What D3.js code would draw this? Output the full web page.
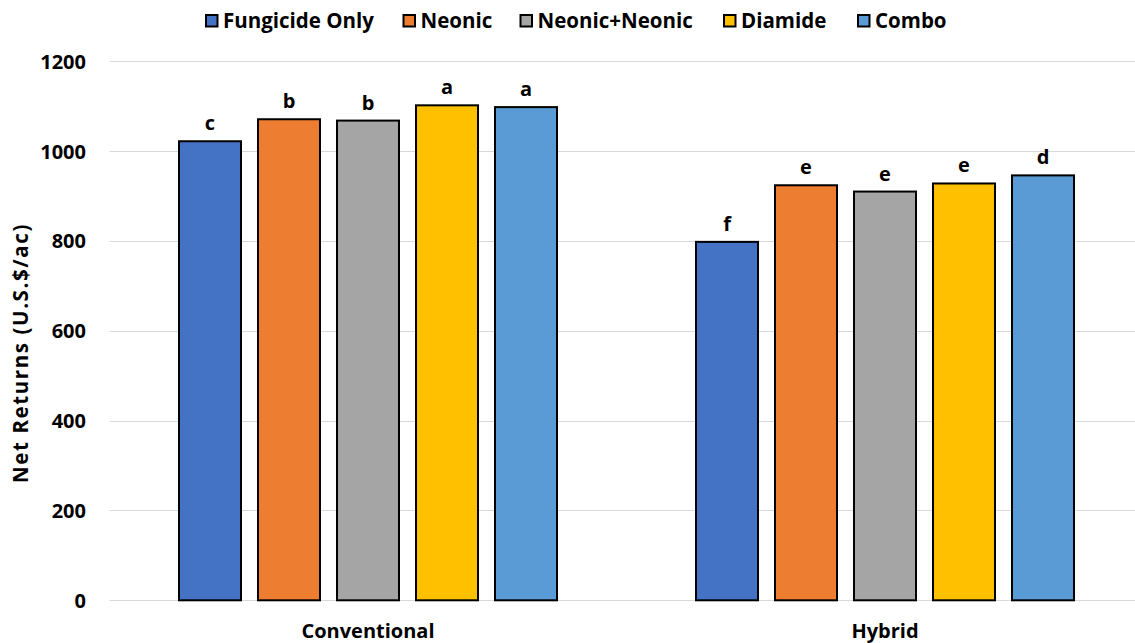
<!DOCTYPE html>
<html>
<head>
<meta charset="utf-8">
<script src="https://cdn.jsdelivr.net/npm/d3@7"></script>
<style>
  html, body { margin: 0; padding: 0; background: #fff; overflow: hidden; }
  svg text { font-family: "Open Sans", "Noto Sans", sans-serif; font-weight: bold; fill: #000; }
</style>
</head>
<body>
<svg id="chart" width="1135" height="643"></svg>
<script>
// Net returns by seed treatment, for two production systems
const categories = ["Conventional", "Hybrid"];
const seriesNames = ["Fungicide Only", "Neonic", "Neonic+Neonic", "Diamide", "Combo"];
const seriesColors = ["#4472C4", "#ED7D31", "#A5A5A5", "#FFC000", "#5B9BD5"];
const conventionalValues = [1022, 1071, 1068, 1102, 1098];
const hybridValues = [798, 924, 910, 928, 946];
const conventionalLetters = ["c", "b", "b", "a", "a"];
const hybridLetters = ["f", "e", "e", "e", "d"];
const yTicks = [0, 200, 400, 600, 800, 1000, 1200];

const valuesByCategory = [conventionalValues, hybridValues];
const lettersByCategory = [conventionalLetters, hybridLetters];

const svg = d3.select("#chart");

const plot = { left: 109.5, right: 1143.5, top: 61.3, bottom: 600.3 };

const y = d3.scaleLinear().domain([0, 1200]).range([plot.bottom, plot.top]);
const x0 = d3.scaleBand().domain(categories).range([plot.left, plot.right]);
const x1 = d3.scaleBand().domain(seriesNames).range([-190, 190]).paddingInner(15 / 79);
const color = d3.scaleOrdinal().domain(seriesNames).range(seriesColors);

// Horizontal gridlines
svg.append("g")
  .selectAll("line")
  .data(yTicks)
  .join("line")
  .attr("x1", plot.left)
  .attr("x2", plot.right)
  .attr("y1", d => Math.round(y(d)) + 0.5)
  .attr("y2", d => Math.round(y(d)) + 0.5)
  .attr("stroke", "#d9d9d9")
  .attr("stroke-width", 1);

// Y axis labels
const yAxis = d3.axisLeft(y).tickValues(yTicks).tickFormat(d3.format("d")).tickSize(0).tickPadding(0);
const yg = svg.append("g")
  .attr("transform", `translate(86,0)`)
  .call(yAxis);
yg.select(".domain").remove();
yg.selectAll("text")
  .attr("font-size", 20)
  .attr("dy", "0.35em")
  .style("font-family", "'Open Sans', 'Noto Sans', sans-serif")
  .style("font-weight", "bold");

// Y axis title
svg.append("text")
  .attr("transform", `translate(28,${353}) rotate(-90)`)
  .attr("text-anchor", "middle")
  .attr("font-size", 20.5)
  .attr("letter-spacing", 1.6)
  .text("Net Returns (U.S.$/ac)");

// Bars, grouped by category
const groups = svg.append("g")
  .selectAll("g")
  .data(categories)
  .join("g")
  .attr("transform", d => `translate(${x0(d) + x0.bandwidth() / 2},0)`);

groups.selectAll("rect")
  .data((c, i) => seriesNames.map((s, j) => ({ s, v: valuesByCategory[i][j] })))
  .join("rect")
  .attr("x", d => x1(d.s) + 1)
  .attr("width", x1.bandwidth() - 2)
  .attr("y", d => y(d.v))
  .attr("height", d => y(0) - y(d.v))
  .attr("fill", d => color(d.s))
  .attr("stroke", "#000")
  .attr("stroke-width", 2);

// Significance letters above bars
groups.selectAll("text.sig")
  .data((c, i) => seriesNames.map((s, j) => ({ s, v: valuesByCategory[i][j], l: lettersByCategory[i][j] })))
  .join("text")
  .attr("class", "sig")
  .attr("x", d => x1(d.s) + x1.bandwidth() / 2)
  .attr("y", d => y(d.v) - 11)
  .attr("text-anchor", "middle")
  .attr("font-size", 20)
  .text(d => d.l);

// Category labels
svg.append("g")
  .selectAll("text")
  .data(categories)
  .join("text")
  .attr("x", d => x0(d) + x0.bandwidth() / 2)
  .attr("y", 638)
  .attr("text-anchor", "middle")
  .attr("font-size", 20)
  .text(d => d);

// Legend
const legendX = [205, 402.5, 519.5, 723, 857];
const legend = svg.append("g")
  .selectAll("g")
  .data(seriesNames)
  .join("g")
  .attr("transform", (d, i) => `translate(${legendX[i]},0)`);
legend.append("rect")
  .attr("x", 1)
  .attr("y", 15)
  .attr("width", 11.5)
  .attr("height", 11.5)
  .attr("fill", d => color(d))
  .attr("stroke", "#000")
  .attr("stroke-width", 2);
legend.append("text")
  .attr("x", 18)
  .attr("y", 28)
  .attr("font-size", 20.5)
  .text(d => d);
</script>
</body>
</html>
